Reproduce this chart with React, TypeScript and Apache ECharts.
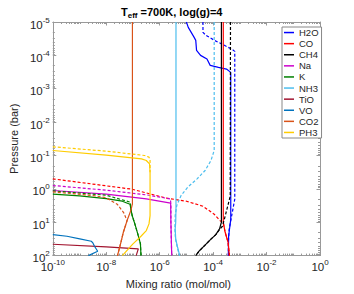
import React, { useEffect, useRef } from 'react';
import * as echarts from 'echarts';

// Pairs are [log10 mixing ratio (mol/mol), log10 pressure (bar)]
const species = ['H2O', 'CO', 'CH4', 'Na', 'K', 'NH3', 'TiO', 'VO', 'CO2', 'PH3'];
const colors = ['#0000ff', '#ff0000', '#000000', '#cc00cc', '#008000', '#4dbeee', '#a2142f', '#0072bd', '#d95319', '#ffcc00'];

const h2oSolid = [[-5.0, -5], [-4.93, -4.84], [-4.71, -4.54], [-4.65, -4.45], [-4.62, -4.15], [-4.47, -4.0], [-4.23, -3.89], [-4.11, -3.7], [-3.8, -3.64], [-3.5, -3.59], [-3.34, -3.49], [-3.34, 0.91], [-3.42, 1.42], [-3.43, 2.0]];
const h2oDash = [[-4.38, -5], [-4.38, -4.69], [-4.27, -4.6], [-3.95, -4.45], [-3.65, -4.33], [-3.29, -4.18], [-3.19, -4.12], [-3.19, 0.31], [-3.4, 1.21], [-3.43, 1.6], [-3.43, 2.0]];
const coSolid = [[-3.62, -5], [-3.62, 1.0], [-3.55, 1.3], [-3.44, 1.6], [-3.39, 2.0]];
const coDash = [[-10, -0.3], [-7.04, 0.01], [-5.73, 0.28], [-5.0, 0.37], [-4.38, 0.52], [-3.96, 0.76], [-3.73, 0.96], [-3.62, 1.03], [-3.55, 1.3], [-3.44, 1.6], [-3.39, 2.0]];
const ch4Solid = [[-3.69, -5], [-3.69, 1.0], [-3.76, 1.2], [-3.9, 1.37], [-4.1, 1.52], [-4.32, 1.7], [-4.52, 1.86], [-4.65, 2.0]];
const ch4Dash = [[-3.35, -5], [-3.36, 0.22], [-3.55, 0.82], [-3.65, 1.12], [-3.72, 1.18], [-3.9, 1.37], [-4.1, 1.52], [-4.32, 1.7], [-4.52, 1.86], [-4.65, 2.0]];
const naSolid = [[-10, 0.05], [-8, 0.16], [-6.5, 0.3], [-5.59, 0.43], [-5.58, 1.0], [-5.55, 2.0]];
const naDash = [[-10, -0.1], [-8, 0.04], [-6.5, 0.18], [-5.6, 0.3], [-5.58, 0.45], [-5.58, 1.0], [-5.55, 2.0]];
const kSolid = [[-10, 0.16], [-9, 0.21], [-8, 0.29], [-7.4, 0.37], [-7.11, 0.46], [-7.08, 0.6], [-7.03, 0.8], [-6.93, 1.05], [-6.82, 1.35], [-6.72, 1.65], [-6.7, 2.0]];
const kDash = [[-10, 0.06], [-8, 0.19], [-7.1, 0.4], [-7.08, 0.6], [-7.03, 0.8], [-6.93, 1.05], [-6.82, 1.35], [-6.72, 1.65], [-6.7, 2.0]];
const nh3Solid = [[-5.39, -5], [-5.39, 0.6], [-5.4, 1.0], [-5.42, 1.2], [-5.4, 1.5], [-5.33, 1.75], [-5.25, 2.0]];
const nh3Dash = [[-3.96, -5], [-3.96, -1.15], [-4.08, -0.85], [-4.3, -0.55], [-4.6, -0.3], [-4.95, -0.05], [-5.2, 0.2], [-5.36, 0.5], [-5.42, 0.8], [-5.43, 1.2], [-5.41, 1.5], [-5.34, 1.75], [-5.26, 2.0]];
const tioSolid = [[-10, 1.66], [-8, 1.74], [-6.8, 1.8], [-6.88, 2.0]];
const voSolid = [[-10, 1.37], [-9.47, 1.42], [-8.99, 1.5], [-8.56, 1.57], [-8.5, 1.62], [-8.44, 1.72], [-8.32, 1.87], [-8.67, 2.0]];
const co2Solid = [[-7.02, -5], [-7.02, 0.45], [-7.08, 0.65], [-7.22, 0.95], [-7.3, 1.15], [-7.36, 1.3], [-7.45, 1.6], [-7.53, 1.85], [-7.58, 2.0]];
const co2Dash = [[-10, 0.09], [-8.5, 0.2], [-8.02, 0.26], [-7.59, 0.46], [-7.35, 0.71], [-7.27, 0.86], [-7.22, 0.95], [-7.3, 1.15], [-7.36, 1.3], [-7.45, 1.6], [-7.53, 1.85], [-7.58, 2.0]];
const ph3Solid = [[-10, -1.15], [-8, -1.01], [-6.68, -0.9], [-6.5, -0.85], [-6.38, -0.75], [-6.36, -0.5], [-6.36, 0.8], [-6.4, 1.05], [-6.5, 1.25], [-6.7, 1.42], [-7.0, 1.65], [-7.4, 2.0]];
const ph3Dash = [[-10, -1.26], [-8, -1.13], [-6.56, -1.0], [-6.4, -0.95], [-6.36, -0.88], [-6.36, -0.5]];

const solids = [h2oSolid, coSolid, ch4Solid, naSolid, kSolid, nh3Solid, tioSolid, voSolid, co2Solid, ph3Solid];
const dashes = [h2oDash, coDash, ch4Dash, naDash, kDash, nh3Dash, null, null, co2Dash, ph3Dash];

const xMin = -10, xMax = 0, xStep = 2;
const yMin = -5, yMax = 2, yStep = 1;
const minorMultipliers = [2, 3, 4, 5, 6, 7, 8, 9];

const FONT = 'Liberation Sans, Arial, Helvetica, sans-serif';
const AXIS = '#999999';
const TXT = '#262626';

function minorTicks(lo: number, hi: number, majorStep: number) {
  const out: number[] = [];
  for (let d = lo; d < hi; d++) {
    if ((d - lo) % majorStep !== 0) out.push(d);
    minorMultipliers.forEach((k) => out.push(d + Math.log10(k)));
  }
  return out;
}

const labelRich = {
  b: { fontSize: 11.5, color: TXT, fontFamily: FONT, lineHeight: 12, padding: [5, 0, 0, 0] },
  s: { fontSize: 8, color: TXT, fontFamily: FONT, lineHeight: 10, verticalAlign: 'top' },
};
const fmt = (v: number) => `{b|10}{s|${v}}`;

export default function App() {
  const ref = useRef<HTMLDivElement>(null);
  useEffect(() => {
    if (!ref.current) return;
    const chart = echarts.init(ref.current, undefined, { renderer: 'svg' });
    const series: any[] = [];
    species.forEach((name, i) => {
      series.push({
        name, type: 'line', data: solids[i], symbol: 'none', showSymbol: false,
        lineStyle: { color: colors[i], width: 1.2 }, itemStyle: { color: colors[i] }, z: 3,
      });
      if (dashes[i]) {
        series.push({
          name: name + ' ', type: 'line', data: dashes[i], symbol: 'none', showSymbol: false,
          lineStyle: { color: colors[i], width: 1.2, type: [3, 2] }, itemStyle: { color: colors[i] }, z: 3,
        });
      }
    });
    const tickStyle = { stroke: AXIS, lineWidth: 1 };
    series.push({
      type: 'custom', silent: true, z: 2,
      data: minorTicks(xMin, xMax, xStep).map((v) => [v, yMin]),
      renderItem: (params: any, api: any) => {
        const cs = params.coordSys;
        const px = Math.round(api.coord([api.value(0), yMin])[0]) + 0.5;
        const b = cs.y + cs.height;
        return {
          type: 'group', children: [
            { type: 'line', shape: { x1: px, y1: b, x2: px, y2: b - 2 }, style: tickStyle },
            { type: 'line', shape: { x1: px, y1: cs.y, x2: px, y2: cs.y + 2 }, style: tickStyle },
          ],
        };
      },
    });
    series.push({
      type: 'custom', silent: true, z: 2,
      data: minorTicks(yMin, yMax, yStep).map((v) => [xMin, v]),
      renderItem: (params: any, api: any) => {
        const cs = params.coordSys;
        const py = Math.round(api.coord([xMin, api.value(1)])[1]) + 0.5;
        const r = cs.x + cs.width;
        return {
          type: 'group', children: [
            { type: 'line', shape: { x1: cs.x, y1: py, x2: cs.x + 2, y2: py }, style: tickStyle },
            { type: 'line', shape: { x1: r, y1: py, x2: r - 2, y2: py }, style: tickStyle },
          ],
        };
      },
    });

    const axisLine = { show: true, onZero: false, lineStyle: { color: AXIS, width: 1 } };
    const axisTick = { show: true, inside: true, length: 3.5, lineStyle: { color: AXIS } };
    chart.setOption({
      animation: false,
      backgroundColor: '#ffffff',
      textStyle: { fontFamily: FONT },
      title: {
        text: '{a|T}{b|eff}{a| =700K, log(g)=4}',
        left: 116, top: 0,
        textStyle: {
          rich: {
            a: { fontSize: 11, fontWeight: 'bold', color: '#000', fontFamily: FONT, lineHeight: 14 },
            b: { fontSize: 8, fontWeight: 'bold', color: '#000', fontFamily: FONT, lineHeight: 12, padding: [7, 0, 0, 0] },
          },
        },
      },
      legend: {
        data: species, orient: 'vertical', left: 282, top: 27, icon: 'rect',
        itemWidth: 10, itemHeight: 1.5, itemGap: 0, padding: [0, 3, 0, 2],
        backgroundColor: '#ffffff', borderColor: '#888888', borderWidth: 1, borderRadius: 0,
        textStyle: { fontSize: 9.5, color: TXT, lineHeight: 11.1, fontFamily: FONT },
        selectedMode: false,
      },
      grid: { left: 45, right: 34, top: 22, bottom: 37, show: false },
      xAxis: [
        {
          type: 'value', min: xMin, max: xMax, interval: xStep, position: 'bottom',
          name: 'Mixing ratio (mol/mol)', nameLocation: 'middle', nameGap: 21,
          nameTextStyle: { fontSize: 11, color: TXT, fontFamily: FONT, padding: [0, 16, 0, 0] },
          axisLine, axisTick, splitLine: { show: false },
          axisLabel: { formatter: fmt, rich: labelRich, margin: 3 },
        },
        {
          type: 'value', min: xMin, max: xMax, interval: xStep, position: 'top',
          axisLine, axisTick, splitLine: { show: false }, axisLabel: { show: false },
        },
      ],
      yAxis: [
        {
          type: 'value', min: yMin, max: yMax, interval: yStep, inverse: true, position: 'left',
          name: 'Pressure (bar)', nameLocation: 'middle', nameGap: 25,
          nameTextStyle: { fontSize: 11, color: TXT, fontFamily: FONT },
          axisLine, axisTick, splitLine: { show: false },
          axisLabel: { formatter: fmt, rich: labelRich, margin: 3 },
        },
        {
          type: 'value', min: yMin, max: yMax, interval: yStep, inverse: true, position: 'right',
          axisLine, axisTick, splitLine: { show: false }, axisLabel: { show: false },
        },
      ],
      series,
    });
    return () => chart.dispose();
  }, []);
  return <div ref={ref} style={{ position: 'fixed', left: 0, top: 0, width: 354, height: 294, background: '#fff' }} />;
}
